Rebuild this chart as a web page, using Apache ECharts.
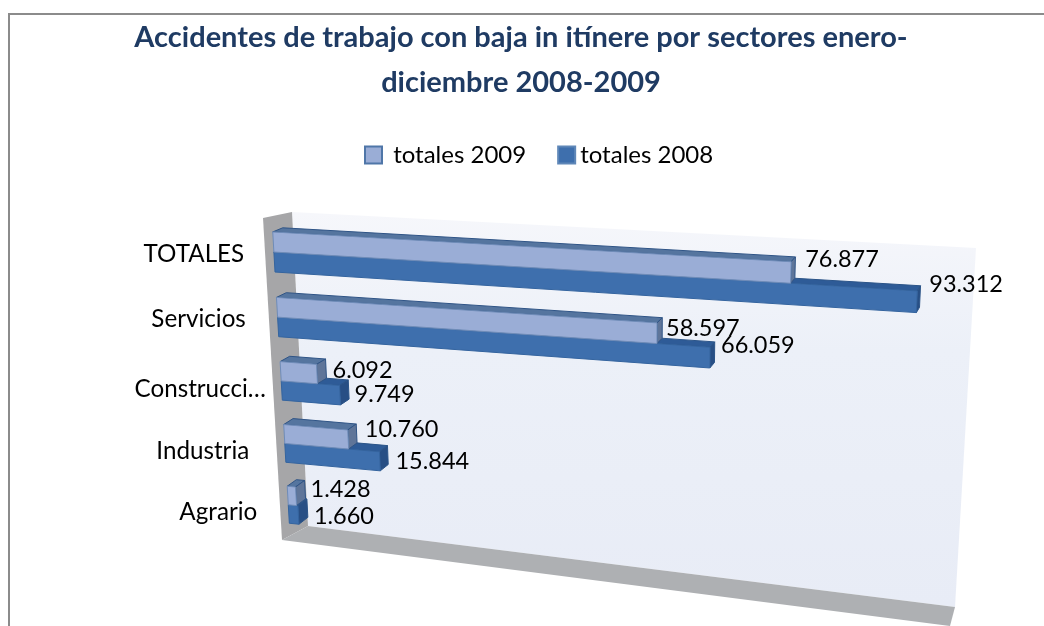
<!DOCTYPE html>
<html><head><meta charset="utf-8">
<style>html,body{margin:0;padding:0;background:#fff}#c{width:1044px;height:626px}</style>
<script src="https://cdn.jsdelivr.net/npm/echarts@6/dist/echarts.min.js"></script>
</head><body><div id="c"></div>
<script>
const categories = ['TOTALES','Servicios','Construcción','Industria','Agrario'];
const categoryLabels = ['TOTALES','Servicios','Construcci…','Industria','Agrario'];
const totales2009 = [76877,58597,6092,10760,1428];
const totales2008 = [93312,66059,9749,15844,1660];
const FONT = 'Lato';

// perspective layout: corners of the bars' front and back planes (TL, TR, BR, BL)
const frontPlane = [[272,219],[972.5,258],[955,602],[290,535]];
const backPlane  = [[282,215],[975.5,253],[957,595],[299,528]];
const bend = 0.05;
// label nudges (px) relative to the projected bar end
const nudge2009 = [[14,-13],[9,-5],[16,-4],[17,-10],[15,-7]];
const nudge2008 = [[12,-17],[11,-12],[15,-1],[16,0],[16,1]];
const catNudge = [[-80,2],[-79,2],[-81,8],[-82,8],[-70,7]];

function makeH(q){
  const [[x0,y0],[x1,y1],[x2,y2],[x3,y3]] = q;
  const sx=x0-x1+x2-x3, sy=y0-y1+y2-y3, dx1=x1-x2, dx2=x3-x2, dy1=y1-y2, dy2=y3-y2;
  const den=dx1*dy2-dx2*dy1;
  const g=(sx*dy2-dx2*sy)/den, h=(dx1*sy-sx*dy1)/den;
  const a=x1-x0+g*x1, b=x3-x0+h*x3, d=y1-y0+g*y1, e=y3-y0+h*y3;
  return (u,v)=>{const t=u*(1-bend)/(1-bend*u),w=g*t+h*v+1;return [(a*t+b*v+x0)/w,(d*t+e*v+y0)/w];};
}
const HF=makeH(frontPlane), HB=makeH(backPlane);

function barRenderer(bandFrom,bandTo,colors,nudge){
  return function(params,api){
    const cs=params.coordSys;
    const i=params.dataIndex;
    const val=api.value(0);
    const p0=api.coord([0,api.value(1)]), p1=api.coord([val,api.value(1)]);
    const band=api.size([0,1])[1];
    const U=x=>(x-cs.x)/cs.width, V=y=>(y-cs.y)/cs.height;
    const u0=U(p0[0]),u1=U(p1[0]);
    const v0=V(p0[1]-band/2+band*bandFrom), v1=V(p0[1]-band/2+band*bandTo);
    const fTL=HF(u0,v0),fTR=HF(u1,v0),fBR=HF(u1,v1),fBL=HF(u0,v1);
    const bTL=HB(u0,v0),bTR=HB(u1,v0),bBR=HB(u1,v1);
    const poly=(pts,fill,st)=>({type:'polygon',shape:{points:pts},
      style:{fill,stroke:st,lineWidth:1}});
    const txt=String(val).replace(/(\d)(\d{3})$/,'$1.$2');
    return {type:'group',children:[
      poly([fTL,bTL,bTR,fTR],colors.top,colors.edge),
      poly([fTR,bTR,bBR,fBR],colors.side,colors.edge),
      poly([fTL,fTR,fBR,fBL],colors.front,colors.frontEdge),
      {type:'text',x:fTR[0]+nudge[i][0],y:(fTR[1]+fBR[1])/2+nudge[i][1],
       style:{text:txt,font:'23.5px '+FONT,fill:'#000',textAlign:'left',textVerticalAlign:'middle'}}
    ]};
  };
}
const colors2009={front:'#9aadd6',top:'#55759f',side:'#5f7599',edge:'#2f5486',frontEdge:'#6f8cb8'};
const colors2008={front:'#3e6fad',top:'#2e5b97',side:'#284f85',edge:'#2b5488',frontEdge:'#34649f'};

const chart=echarts.init(document.getElementById('c'),null,{renderer:'canvas',width:1044,height:626});
chart.setOption({
  backgroundColor:'#fff',
  animation:false,
  title:{text:'Accidentes de trabajo con baja in itínere por sectores enero-\ndiciembre 2008-2009',
    left:516,top:10,textAlign:'center',
    textStyle:{color:'#1f3b63',fontFamily:FONT,fontWeight:'bold',fontSize:29,lineHeight:45}},
  legend:{data:['totales 2009','totales 2008'],left:359,top:138,itemWidth:17,itemHeight:17,itemGap:31,
    formatter:n=>n==='totales 2009'?' '+n:n,
    textStyle:{fontFamily:FONT,fontSize:24,color:'#000'},icon:'rect',selectedMode:false},
  grid:{left:100,top:200,width:800,height:400,show:false},
  xAxis:{type:'value',min:0,max:100000,show:false},
  yAxis:{type:'category',data:categories,inverse:true,show:false},
  graphic:[
    {type:'polyline',shape:{points:[[9,626],[9,14],[1044,14]]},style:{stroke:'#8b8b8b',lineWidth:2,fill:null},z:-5},
    {type:'polygon',shape:{points:[[292,212],[976,248],[955,607],[308,526]]},z:-4,
      style:{fill:new echarts.graphic.LinearGradient(0,0,0,1,[{offset:0,color:'#f6f7fb'},{offset:.35,color:'#ecf0f8'},{offset:1,color:'#e8ecf6'}])}},
    {type:'polygon',shape:{points:[[263,218],[292,212],[308,526],[282,540]]},style:{fill:'#a6a6a8'},z:-3},
    {type:'polygon',shape:{points:[[282,540],[308,526],[955,607],[950,626]]},style:{fill:'#aeb0b3'},z:-3}
  ],
  series:[
    {name:'totales 2009',type:'custom',z:4,coordinateSystem:'cartesian2d',
     itemStyle:{color:colors2009.front,borderColor:'#4f76a8',borderWidth:2},
     encode:{x:0,y:1},data:totales2009.map((v,i)=>[v,i]),
     renderItem:barRenderer(.195,.5,colors2009,nudge2009)},
    {name:'totales 2008',type:'custom',z:3,coordinateSystem:'cartesian2d',
     itemStyle:{color:colors2008.front,borderColor:'#5f87b8',borderWidth:2},
     encode:{x:0,y:1},data:totales2008.map((v,i)=>[v,i]),
     renderItem:barRenderer(.5,.805,colors2008,nudge2008)},
    {name:'categorias',type:'custom',z:5,coordinateSystem:'cartesian2d',silent:true,
     encode:{x:0,y:1},data:categoryLabels.map((n,i)=>[0,i,n]),
     renderItem:function(params,api){
       const cs=params.coordSys,i=params.dataIndex,p=api.coord([0,api.value(1)]);
       const q=HF((p[0]-cs.x)/cs.width,(p[1]-cs.y)/cs.height);
       return {type:'text',x:q[0]+catNudge[i][0],y:q[1]+catNudge[i][1],
         style:{text:categoryLabels[i],font:'24.2px '+FONT,fill:'#000',textAlign:'center',textVerticalAlign:'middle'}};
     }}
  ]
});
</script></body></html>
